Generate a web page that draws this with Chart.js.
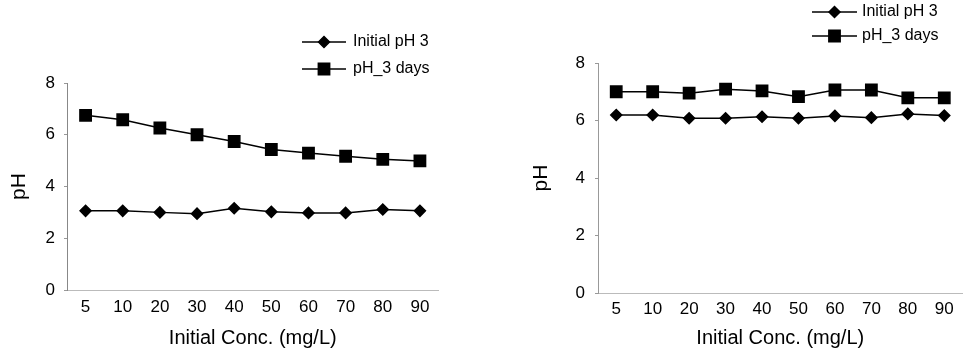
<!DOCTYPE html>
<html>
<head>
<meta charset="utf-8">
<script src="https://cdn.jsdelivr.net/npm/chart.js@4/dist/chart.umd.min.js"></script>
<style>
  html, body { margin: 0; padding: 0; background: #fff; overflow: hidden; }
  body { width: 964px; height: 352px; position: relative; }
  .box { position: absolute; top: 0; height: 352px; }
</style>
</head>
<body>
<div class="box" style="left:0;width:448px"><canvas id="leftChart"></canvas></div>
<div class="box" style="left:484px;width:488px"><canvas id="rightChart"></canvas></div>
<script>
const concLabels = ["5", "10", "20", "30", "40", "50", "60", "70", "80", "90"];
const yTicks = [0, 2, 4, 6, 8];
const seriesNames = ["Initial pH 3", "pH_3 days"];

// left panel
const leftInitial = [3.06, 3.06, 3.00, 2.95, 3.16, 3.02, 2.98, 2.98, 3.11, 3.06];
const left3days = [6.75, 6.58, 6.26, 6.00, 5.74, 5.43, 5.29, 5.17, 5.05, 4.99];

// right panel
const rightInitial = [6.19, 6.19, 6.08, 6.08, 6.13, 6.08, 6.16, 6.10, 6.23, 6.17];
const right3days = [7.00, 7.00, 6.95, 7.09, 7.03, 6.83, 7.06, 7.06, 6.79, 6.79];

const FONT = "'Liberation Sans', Arial, sans-serif";
Chart.defaults.font.family = FONT;
Chart.defaults.color = "#000";

// legend drawn as line + marker, stacked vertically
const lineLegend = {
  id: "lineLegend",
  afterDraw(chart, args, opts) {
    const ctx = chart.ctx;
    chart.data.datasets.forEach((ds, i) => {
      const y = opts.y + i * opts.rowGap;
      ctx.save();
      ctx.strokeStyle = ds.borderColor;
      ctx.lineWidth = ds.borderWidth;
      ctx.beginPath();
      ctx.moveTo(opts.x, y);
      ctx.lineTo(opts.x + opts.lineLen, y);
      ctx.stroke();
      ctx.fillStyle = ds.pointBackgroundColor;
      ctx.strokeStyle = ds.pointBorderColor;
      Chart.helpers.drawPoint(ctx, {
        pointStyle: ds.pointStyle,
        radius: ds.pointRadius,
        rotation: 0,
        borderWidth: 1
      }, opts.x + opts.lineLen / 2, y);
      ctx.fillStyle = "#000";
      ctx.font = "16px " + FONT;
      ctx.textBaseline = "middle";
      ctx.textAlign = "left";
      ctx.fillText(ds.label, opts.x + opts.lineLen + opts.gap, y);
      ctx.restore();
    });
  }
};

function makeChart(id, initial, days, cfg) {
  const ctx = document.getElementById(id).getContext("2d");
  return new Chart(ctx, {
    type: "line",
    data: {
      labels: concLabels,
      datasets: [
        {
          label: seriesNames[0],
          data: initial,
          borderColor: "#000",
          borderWidth: 1.5,
          pointStyle: "rectRot",
          pointRadius: 5.5,
          pointBackgroundColor: "#000",
          pointBorderColor: "#000",
          tension: 0
        },
        {
          label: seriesNames[1],
          data: days,
          borderColor: "#000",
          borderWidth: 1.5,
          pointStyle: "rect",
          pointRadius: 8,
          pointBackgroundColor: "#000",
          pointBorderColor: "#000",
          tension: 0
        }
      ]
    },
    options: {
      responsive: true,
      maintainAspectRatio: false,
      animation: false,
      layout: { padding: { top: cfg.top, right: cfg.right, left: 0, bottom: 0 } },
      scales: {
        x: {
          offset: true,
          grid: { display: false, drawTicks: false },
          border: { display: true, color: "#bbb", width: 1, dash: [3, 6] },
          ticks: { font: { size: 17 }, padding: cfg.xPad, color: "#000" },
          title: { display: true, text: "Initial Conc. (mg/L)", font: { size: 20 }, padding: { top: 0, bottom: 2 }, color: "#000" },
          afterFit(scale) { scale.height = cfg.xHeight; }
        },
        y: {
          min: 0,
          max: 8,
          afterBuildTicks(scale) { scale.ticks = yTicks.map(v => ({ value: v })); },
          grid: { drawOnChartArea: false, drawTicks: true, tickLength: 3, color: "#999" },
          border: { display: true, color: cfg.yColor, width: 1, dash: cfg.yDash },
          ticks: { font: { size: 17 }, padding: cfg.yPad, color: "#000" },
          title: { display: true, text: "pH", font: { size: 21 }, padding: { top: cfg.titlePad, bottom: 0 }, color: "#000" },
          afterFit(scale) { scale.width = cfg.yWidth; }
        }
      },
      plugins: {
        legend: { display: false },
        tooltip: { enabled: false },
        lineLegend: cfg.legend
      }
    },
    plugins: [lineLegend]
  });
}

makeChart("leftChart", leftInitial, left3days, {
  top: 83, right: 0, xHeight: 62, xPad: 7, yWidth: 67, yPad: 9, titlePad: 7, yDash: [], yColor: "#888",
  legend: { x: 302, y: 42, rowGap: 27, lineLen: 44, gap: 7 }
});

makeChart("rightChart", rightInitial, right3days, {
  top: 63, right: 1, xHeight: 59, xPad: 6, yWidth: 114, yPad: 10, titlePad: 45, yDash: [1, 2], yColor: "#999",
  legend: { x: 328, y: 12, rowGap: 24, lineLen: 45, gap: 5 }
});
</script>
</body>
</html>
